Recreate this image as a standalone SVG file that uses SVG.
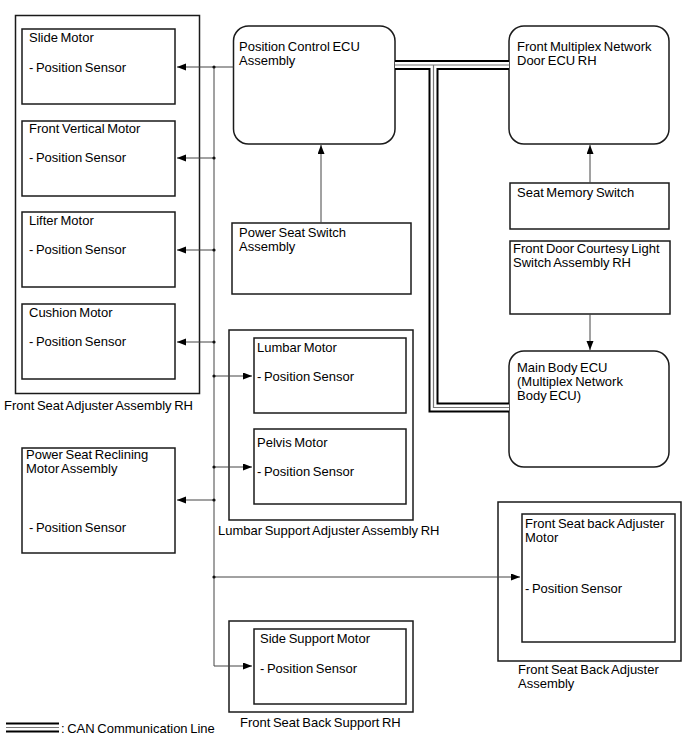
<svg xmlns="http://www.w3.org/2000/svg" width="688" height="755" viewBox="0 0 688 755">
<style>
text{font-family:"Liberation Sans",Arial,sans-serif;font-size:13px;word-spacing:-1px;fill:#000}
.box{fill:#fff;stroke:#1a1a1a;stroke-width:1.5}
.wire{fill:none;stroke:#444;stroke-width:1}
.arr{fill:none;stroke:#444;stroke-width:1;marker-end:url(#ah)}
.dot{fill:#111}
.canB{fill:none;stroke:#000;stroke-width:10;stroke-linejoin:miter}
.canW{fill:none;stroke:#fff;stroke-width:6;stroke-linejoin:miter}
.canG{fill:none;stroke:#777;stroke-width:1.2;stroke-linejoin:miter}
</style>
<defs>
<marker id="ah" markerUnits="userSpaceOnUse" markerWidth="10" markerHeight="8" refX="9" refY="3.5" orient="auto">
<path d="M0,0 L9,3.5 L0,7 z" fill="#000"/>
</marker>
</defs>
<rect width="688" height="755" fill="#fff"/>

<g id="front-seat-adjuster">
<rect class="box" x="15.5" y="15.5" width="184" height="378"/>
<text x="4" y="410">Front Seat Adjuster Assembly RH</text>
</g>
<g id="slide-motor">
<rect class="box" x="22" y="29" width="153" height="75"/>
<text x="29" y="42">Slide Motor</text>
<text x="29" y="72">- Position Sensor</text>
</g>
<g id="front-vertical-motor">
<rect class="box" x="22" y="121" width="153" height="75"/>
<text x="29" y="133">Front Vertical Motor</text>
<text x="29" y="162">- Position Sensor</text>
</g>
<g id="lifter-motor">
<rect class="box" x="22" y="212" width="153" height="75"/>
<text x="29" y="225">Lifter Motor</text>
<text x="29" y="254">- Position Sensor</text>
</g>
<g id="cushion-motor">
<rect class="box" x="22" y="304" width="153" height="75"/>
<text x="29" y="317">Cushion Motor</text>
<text x="29" y="346">- Position Sensor</text>
</g>
<g id="reclining-motor">
<rect class="box" x="22" y="448" width="153" height="105"/>
<text x="26" y="459">Power Seat Reclining</text>
<text x="26" y="473">Motor Assembly</text>
<text x="29" y="532">- Position Sensor</text>
</g>

<g id="position-control-ecu">
<rect class="box" x="233.5" y="26" width="161.5" height="118" rx="15"/>
<text x="239" y="51">Position Control ECU</text>
<text x="239" y="65">Assembly</text>
</g>
<g id="power-seat-switch">
<rect class="box" x="232" y="223" width="179" height="71"/>
<text x="239" y="237">Power Seat Switch</text>
<text x="239" y="251">Assembly</text>
</g>

<g id="lumbar-support-adjuster">
<rect class="box" x="229" y="330" width="184" height="190"/>
<text x="218" y="535">Lumbar Support Adjuster Assembly RH</text>
</g>
<g id="lumbar-motor">
<rect class="box" x="254" y="338" width="152" height="75"/>
<text x="257" y="352">Lumbar Motor</text>
<text x="257" y="381">- Position Sensor</text>
</g>
<g id="pelvis-motor">
<rect class="box" x="254" y="429" width="152" height="75"/>
<text x="257" y="447">Pelvis Motor</text>
<text x="257" y="476">- Position Sensor</text>
</g>

<g id="front-seat-back-support">
<rect class="box" x="229" y="621" width="184" height="91"/>
<text x="240" y="727">Front Seat Back Support RH</text>
</g>
<g id="side-support-motor">
<rect class="box" x="254" y="629" width="152" height="75"/>
<text x="260" y="643">Side Support Motor</text>
<text x="260" y="673">- Position Sensor</text>
</g>

<g id="front-seat-back-adjuster-assembly">
<rect class="box" x="498" y="502" width="183" height="159"/>
<text x="518" y="674">Front Seat Back Adjuster</text>
<text x="518" y="688">Assembly</text>
</g>
<g id="front-seat-back-adjuster-motor">
<rect class="box" x="522" y="514" width="153" height="128"/>
<text x="525" y="528">Front Seat back Adjuster</text>
<text x="525" y="542">Motor</text>
<text x="525" y="593">- Position Sensor</text>
</g>

<g id="front-multiplex-door-ecu">
<rect class="box" x="509" y="26" width="160" height="118" rx="15"/>
<text x="517" y="51">Front Multiplex Network</text>
<text x="517" y="65">Door ECU RH</text>
</g>
<g id="seat-memory-switch">
<rect class="box" x="510" y="183" width="159" height="46"/>
<text x="517" y="197">Seat Memory Switch</text>
</g>
<g id="front-door-courtesy-switch">
<rect class="box" x="510" y="241" width="160" height="73"/>
<text x="513" y="253">Front Door Courtesy Light</text>
<text x="513" y="267">Switch Assembly RH</text>
</g>
<g id="main-body-ecu">
<rect class="box" x="509" y="351" width="160" height="116" rx="15"/>
<text x="517" y="372">Main Body ECU</text>
<text x="517" y="386">(Multiplex Network</text>
<text x="517" y="400">Body ECU)</text>
</g>

<g id="connectors">
<path class="canB" d="M395,65 H509 M433.5,65 V407.5 H509"/>
<path class="canW" d="M395,65 H509 M433.5,65 V407.5 H509"/>
<path class="canG" d="M395,65 H509 M433.5,65 V407.5 H509"/>

<path class="wire" d="M233.5,67 H214 V666"/>
<path class="arr" d="M214,67 H177"/>
<path class="arr" d="M214,158 H177"/>
<path class="arr" d="M214,250 H177"/>
<path class="arr" d="M214,342 H177"/>
<path class="arr" d="M214,500 H177"/>
<path class="arr" d="M214,376 H252"/>
<path class="arr" d="M214,467 H252"/>
<path class="arr" d="M214,577 H520"/>
<path class="arr" d="M214,666 H252"/>
<circle class="dot" cx="214" cy="67" r="1.6"/>
<circle class="dot" cx="214" cy="158" r="1.6"/>
<circle class="dot" cx="214" cy="250" r="1.6"/>
<circle class="dot" cx="214" cy="342" r="1.6"/>
<circle class="dot" cx="214" cy="376" r="1.6"/>
<circle class="dot" cx="214" cy="467" r="1.6"/>
<circle class="dot" cx="214" cy="500" r="1.6"/>
<circle class="dot" cx="214" cy="577" r="1.6"/>

<path class="arr" d="M321,223 V145"/>
<path class="arr" d="M590,183 V145"/>
<path class="arr" d="M590,314 V350"/>
</g>

<g id="legend">
<path class="canB" d="M6,727.5 H59"/>
<path class="canW" d="M6,727.5 H59"/>
<path class="canG" d="M6,727.5 H59"/>
<text x="61" y="733">: CAN Communication Line</text>
</g>
</svg>
